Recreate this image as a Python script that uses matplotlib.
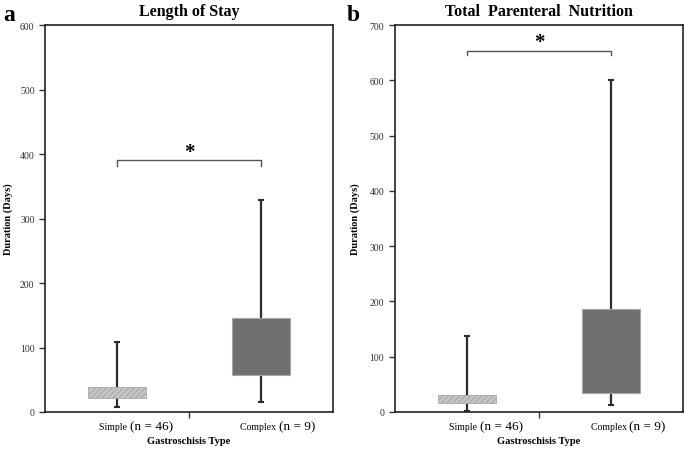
import matplotlib
matplotlib.use("Agg")
import matplotlib.pyplot as plt

plt.rcParams["font.family"] = ["Liberation Serif", "DejaVu Serif"]
plt.rcParams["hatch.color"] = "#9a9a9a"
plt.rcParams["hatch.linewidth"] = 0.8

# data
categories = ["Simple", "Complex"]
n_labels = ["(n = 46)", "(n = 9)"]

los_low = [7, 15]
los_q1 = [22, 57]
los_q3 = [38, 146]
los_high = [109, 328]

tpn_low = [1, 12]
tpn_q1 = [17, 34]
tpn_q3 = [31, 186]
tpn_high = [138, 600]

panels = [
    {"tag": "a", "title": "Length of Stay", "low": los_low, "q1": los_q1, "q3": los_q3,
     "high": los_high, "ymax": 600, "sig_y": 390, "sig_drop": 9,
     "rect": [0.0657, 0.0863, 0.4204, 0.856], "ylab_x": 0.012, "tag_x": 0.005},
    {"tag": "b", "title": "Total  Parenteral  Nutrition", "low": tpn_low, "q1": tpn_q1, "q3": tpn_q3,
     "high": tpn_high, "ymax": 700, "sig_y": 654, "sig_drop": 8,
     "rect": [0.576, 0.0863, 0.4215, 0.856], "ylab_x": 0.518, "tag_x": 0.506},
]

fig = plt.figure(figsize=(6.85, 4.52), dpi=100)

for p in panels:
    ax = fig.add_axes(p["rect"])
    x = [0, 1]

    # whiskers behind the boxes
    ax.vlines(x, p["low"], p["high"], color="#2b2b2b", linewidth=1.6, zorder=1)
    ax.plot(x, p["low"], linestyle="none", marker="_", markersize=5, markeredgewidth=1.5,
            color="#2b2b2b", zorder=1)
    ax.plot(x, p["high"], linestyle="none", marker="_", markersize=5, markeredgewidth=1.5,
            color="#2b2b2b", zorder=1)

    heights = [hi - lo for lo, hi in zip(p["q1"], p["q3"])]
    ax.bar(x[0], heights[0], bottom=p["q1"][0], width=0.4, color="#c6c6c6",
           hatch="//////", edgecolor="#a8a8a8", linewidth=0.6, zorder=2)
    ax.bar(x[1], heights[1], bottom=p["q1"][1], width=0.4, color="#6f6f6f",
           edgecolor="#a6a6a6", linewidth=0.8, zorder=2)

    # significance bracket
    s = p["sig_y"]
    d = p["sig_drop"]
    ax.plot([0, 0, 1, 1], [s - d, s, s, s - d], color="#555555", linewidth=1.0)
    ax.annotate("*", xy=(0.5, s), xytext=(0, -1), textcoords="offset points",
                ha="center", va="bottom", fontsize=15, fontweight="bold")

    ax.set_xlim(-0.5, 1.5)
    ax.set_ylim(0, p["ymax"])
    ax.set_yticks(range(0, p["ymax"] + 1, 100))
    ax.set_xticks([0.5])
    ax.set_xticklabels([])
    ax.tick_params(axis="y", labelsize=7, length=4, width=1, direction="out", colors="#333333",
                   labelcolor="#333333")
    ax.tick_params(axis="x", length=4, width=1, direction="out", colors="#333333")
    for sp in ax.spines.values():
        sp.set_linewidth(1.2)
        sp.set_color("#222222")

    # category labels: small name + larger n
    split = [0.09, 0.125]
    for i, (cat, n) in enumerate(zip(categories, n_labels)):
        ax.annotate(cat + " ", xy=(i + split[i], 0), xycoords=("data", "axes fraction"),
                    xytext=(0, -10.5), textcoords="offset points", ha="right", va="center",
                    fontsize=7)
        ax.annotate(n, xy=(i + split[i], 0), xycoords=("data", "axes fraction"),
                    xytext=(0, -10.5), textcoords="offset points", ha="left", va="center",
                    fontsize=9.5)

    ax.set_title(p["title"], fontsize=11.5, fontweight="bold", pad=7)

    left, bottom, width, height = p["rect"]
    fig.text(left + width / 2, 0.024, "Gastroschisis Type", ha="center", va="center",
             fontsize=7.5, fontweight="bold")
    fig.text(p["ylab_x"], bottom + height / 2, "Duration (Days)", ha="center", va="center",
             rotation=90, fontsize=7.5, fontweight="bold")
    fig.text(p["tag_x"], 0.99, p["tag"], fontsize=17, fontweight="bold", va="top", ha="left")

fig.savefig("out.png", dpi=100)
